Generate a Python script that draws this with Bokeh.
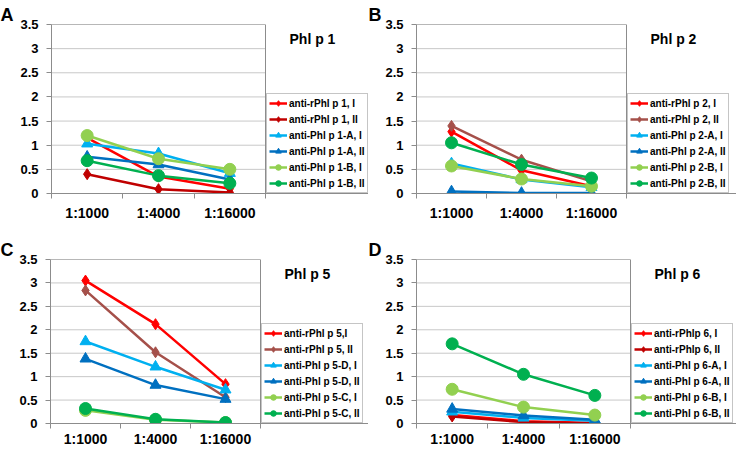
from bokeh.plotting import figure
from bokeh.models import (Range1d, FixedTicker, CustomJSTickFormatter, Legend,
                          LegendItem, Label)
from bokeh.layouts import column, row
from bokeh.embed import file_html
from bokeh.resources import INLINE

dilutions = ["1:1000", "1:4000", "1:16000"]
y_ticks = [0, 0.5, 1, 1.5, 2, 2.5, 3, 3.5]

# Panel A - Phl p 1
phlp1_names = ["anti-rPhl p 1, I", "anti-rPhl p 1, II", "anti-Phl p 1-A, I",
               "anti-Phl p 1-A, II", "anti-Phl p 1-B, I", "anti-Phl p 1-B, II"]
phlp1_values = [[1.15, 0.35, 0.10], [0.40, 0.09, 0.02], [1.03, 0.83, 0.42],
                [0.76, 0.60, 0.29], [1.20, 0.72, 0.50], [0.68, 0.37, 0.21]]

# Panel B - Phl p 2
phlp2_names = ["anti-rPhl p 2, I", "anti-rPhl p 2, II", "anti-Phl p 2-A, I",
               "anti-Phl p 2-A, II", "anti-Phl p 2-B, I", "anti-Phl p 2-B, II"]
phlp2_values = [[1.28, 0.48, 0.15], [1.40, 0.70, 0.25], [0.62, 0.29, 0.13],
                [0.04, 0.01, 0.01], [0.57, 0.30, 0.15], [1.05, 0.60, 0.32]]

# Panel C - Phl p 5
phlp5_names = ["anti-rPhl p 5,I", "anti-rPhl p 5, II", "anti-Phl p 5-D, I",
               "anti-Phl p 5-D, II", "anti-Phl p 5-C, I", "anti-Phl p 5-C, II"]
phlp5_values = [[3.05, 2.12, 0.84], [2.84, 1.52, 0.56], [1.75, 1.21, 0.72],
                [1.38, 0.82, 0.52], [0.28, 0.08, 0.02], [0.32, 0.09, 0.02]]

# Panel D - Phl p 6
phlp6_names = ["anti-rPhlp 6, I", "anti-rPhlp 6, II", "anti-Phl p 6-A, I",
               "anti-Phl p 6-A, II", "anti-Phl p 6-B, I", "anti-Phl p 6-B, II"]
phlp6_values = [[0.18, 0.05, 0.01], [0.15, 0.03, 0.00], [0.25, 0.12, 0.06],
                [0.31, 0.17, 0.08], [0.73, 0.35, 0.18], [1.70, 1.05, 0.60]]

colors_dark = ["#FF0000", "#C00000", "#00B0F0", "#0070C0", "#92D050", "#00B050"]
colors_brown = ["#FF0000", "#A5504A", "#00B0F0", "#0070C0", "#92D050", "#00B050"]
markers = ["diamond", "diamond", "triangle", "triangle", "circle", "circle"]
marker_sizes = [11, 11, 11, 11, 12, 12]

FONT = "Liberation Sans"
GRAY = "#8c8c8c"


def make_panel(letter, title, names, values, colors, w, h, bl, bt, bb, fw, xstand):
    br = 0
    total_fw = w - bl - br          # frame including the legend strip
    n = len(dilutions)
    x_end = n * total_fw / fw       # data part occupies first fw pixels
    p = figure(width=w, height=h, x_range=Range1d(0, x_end),
               y_range=Range1d(0, 3.5), output_backend="svg",
               toolbar_location=None, min_border_left=bl, min_border_right=br,
               min_border_top=bt, min_border_bottom=bb)
    p.background_fill_color = "white"
    p.border_fill_color = "white"
    p.outline_line_color = None
    p.xgrid.grid_line_color = None
    p.ygrid.grid_line_color = None

    # title used for the panel letter
    p.title.text = letter
    p.title.align = "left"
    p.title.offset = -bl
    p.title.standoff = 0
    p.title.text_font = FONT
    p.title.text_font_style = "bold"
    p.title.text_font_size = "18px"
    p.title.text_color = "black"

    # horizontal gridlines and plot-area border limited to the data area
    p.segment(x0=[0] * len(y_ticks), x1=[n] * len(y_ticks), y0=y_ticks, y1=y_ticks,
              line_color="#c8c8c8", line_width=1)
    p.quad(left=[0], right=[n], bottom=[0], top=[y_ticks[-1]], fill_alpha=0,
           line_color=GRAY, line_width=1)

    xs = [i + 0.5 for i in range(n)]
    p.xaxis.ticker = FixedTicker(ticks=xs, minor_ticks=list(range(n + 1)))
    p.xaxis.formatter = CustomJSTickFormatter(args=dict(labels=dilutions),
                                              code="return labels[Math.floor(tick)];")
    p.xaxis.major_tick_line_color = None
    p.xaxis.major_tick_out = 0
    p.xaxis.major_tick_in = 0
    p.xaxis.minor_tick_line_color = GRAY
    p.xaxis.minor_tick_out = 5
    p.xaxis.minor_tick_in = 0
    p.xaxis.axis_line_color = GRAY
    p.xaxis.major_label_standoff = xstand
    p.xaxis.major_label_text_font = FONT
    p.xaxis.major_label_text_font_style = "bold"
    p.xaxis.major_label_text_font_size = "14px"
    p.xaxis.major_label_text_color = "black"

    p.yaxis.ticker = FixedTicker(ticks=y_ticks)
    p.yaxis.formatter = CustomJSTickFormatter(code="return tick.toString();")
    p.yaxis.axis_line_color = GRAY
    p.yaxis.major_tick_line_color = GRAY
    p.yaxis.major_tick_out = 5
    p.yaxis.major_tick_in = 0
    p.yaxis.minor_tick_line_color = None
    p.yaxis.major_label_standoff = 8
    p.yaxis.major_label_text_font = FONT
    p.yaxis.major_label_text_font_style = "bold"
    p.yaxis.major_label_text_font_size = "13px"
    p.yaxis.major_label_text_color = "black"

    items = []
    for name, vals, col, mk, ms in zip(names, values, colors, markers, marker_sizes):
        r1 = p.line(xs, vals, line_color=col, line_width=2.5)
        r2 = p.scatter(xs, vals, marker=mk, size=ms, fill_color=col, line_color=col)
        items.append(LegendItem(label=name, renderers=[r1, r2]))

    legend = Legend(items=items, location=(fw + 1, 0), margin=0,
                    border_line_color=GRAY, border_line_width=1,
                    background_fill_color="white", background_fill_alpha=1,
                    label_text_font=FONT, label_text_font_style="bold",
                    label_text_font_size="10px", label_text_color="black",
                    glyph_width=18, glyph_height=14, label_height=14,
                    label_standoff=2, spacing=2, padding=2)
    p.add_layout(legend, "center")

    p.add_layout(Label(x=fw + 24, y=3.03, x_units="screen", y_units="data",
                       text=title, text_font=FONT, text_font_style="bold",
                       text_font_size="14px", text_color="black"))
    return p


pA = make_panel("A", "Phl p 1", phlp1_names, phlp1_values, colors_dark, 368, 225, 51, 24, 32, 214, 6)
pB = make_panel("B", "Phl p 2", phlp2_names, phlp2_values, colors_brown, 368, 225, 48, 24, 32, 210, 6)
pC = make_panel("C", "Phl p 5", phlp5_names, phlp5_values, colors_brown, 368, 226, 50, 34, 28, 210, 2)
pD = make_panel("D", "Phl p 6", phlp6_names, phlp6_values, colors_dark, 368, 226, 48, 34, 28, 214, 2)

layout = column(row(pA, pB), row(pC, pD))
open("out.html", "w").write(file_html(layout, INLINE))
